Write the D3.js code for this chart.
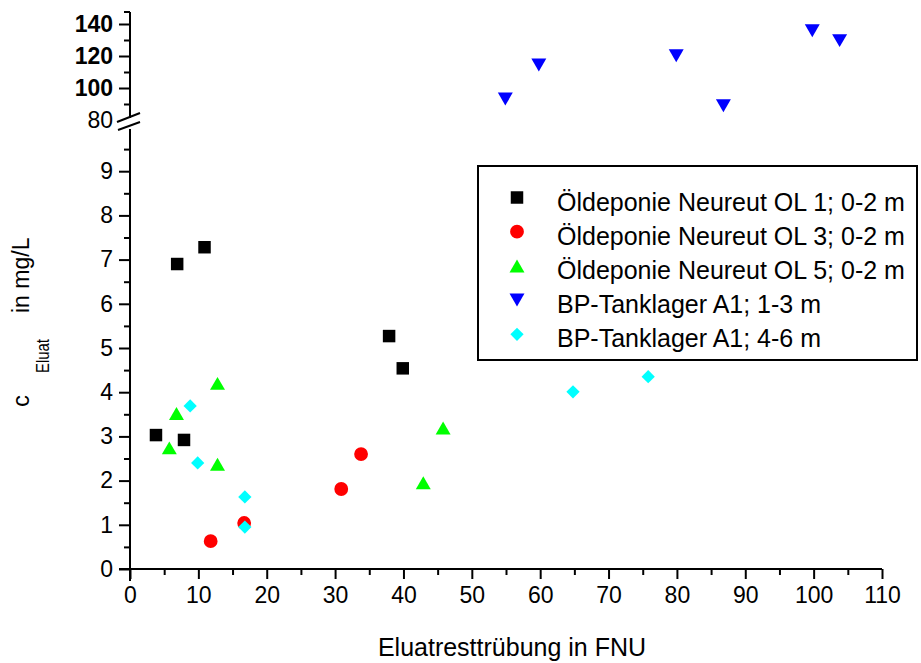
<!DOCTYPE html>
<html>
<head>
<meta charset="utf-8">
<script src="https://cdn.jsdelivr.net/npm/d3@7"></script>
<style>
  html, body { margin: 0; padding: 0; background: #fff; }
  svg { display: block; font-family: "Liberation Sans", Arial, sans-serif; }
</style>
</head>
<body>
<svg id="chart" width="921" height="663"></svg>
<script>
// ---- data ----
const seriesNames = [
  "Öldeponie Neureut OL 1; 0-2 m",
  "Öldeponie Neureut OL 3; 0-2 m",
  "Öldeponie Neureut OL 5; 0-2 m",
  "BP-Tanklager A1; 1-3 m",
  "BP-Tanklager A1; 4-6 m"
];
const ol1 = [[3.8, 3.03], [7.9, 2.92], [6.9, 6.9], [10.9, 7.28], [37.9, 5.27], [39.9, 4.54]];
const ol3 = [[11.8, 0.63], [16.7, 1.04], [30.9, 1.81], [33.8, 2.6]];
const ol5 = [[6.8, 3.52], [5.75, 2.74], [12.8, 4.2], [12.8, 2.37], [42.9, 1.95], [45.8, 3.19]];
const bp13 = [[54.9, 93.1], [59.8, 114.4], [79.9, 120.2], [86.8, 88.9], [99.8, 135.8], [103.8, 129.6]];
const bp46 = [[8.8, 3.69], [9.9, 2.4], [16.8, 1.63], [16.8, 0.95], [64.8, 4.01], [75.8, 4.35]];
const xTicks = [0, 10, 20, 30, 40, 50, 60, 70, 80, 90, 100, 110];
const yLowTicks = [0, 1, 2, 3, 4, 5, 6, 7, 8, 9];
const yHighTicks = [80, 100, 120, 140];
const xTitle = "Eluatresttrübung in FNU";

// ---- layout ----
const svg = d3.select("#chart");
const x = d3.scaleLinear().domain([0, 110]).range([130, 882]);
const yLow = d3.scaleLinear().domain([0, 10]).range([569, 127]);
const yHigh = d3.scaleLinear().domain([80, 147.5]).range([120, 12]);
const axisX = 130;
const fontTick = 23;

// x axis
const gx = svg.append("g").attr("transform", `translate(0,${yLow(0)})`);
gx.call(d3.axisBottom(x).tickValues(xTicks).tickSize(10).tickPadding(8).tickFormat(d3.format("d")));
gx.append("g").call(d3.axisBottom(x).tickValues(d3.range(5, 110, 10)).tickSize(6).tickFormat(""));
gx.selectAll(".domain").remove();
gx.append("line").attr("x1", x(0) - 11).attr("x2", x(110)).attr("stroke", "#000").attr("stroke-width", 2);
gx.selectAll(".tick line").attr("stroke", "#000").attr("stroke-width", 2);
gx.selectAll(".tick text").attr("font-size", fontTick).attr("fill", "#000").attr("font-family", "Liberation Sans, Arial, sans-serif");

// lower y axis
const gyl = svg.append("g").attr("transform", `translate(${axisX},0)`);
gyl.call(d3.axisLeft(yLow).tickValues(yLowTicks).tickSize(11).tickPadding(6).tickFormat(d3.format("d")));
gyl.append("g").call(d3.axisLeft(yLow).tickValues(d3.range(0.5, 10, 1)).tickSize(6).tickFormat(""));
gyl.selectAll(".domain").remove();
gyl.append("line").attr("y1", yLow(0) + 12).attr("y2", 129).attr("stroke", "#000").attr("stroke-width", 2);
gyl.selectAll(".tick line").attr("stroke", "#000").attr("stroke-width", 2);
gyl.selectAll(".tick text").attr("font-size", fontTick).attr("fill", "#000").attr("font-family", "Liberation Sans, Arial, sans-serif");

// upper y axis
const gyh = svg.append("g").attr("transform", `translate(${axisX},0)`);
gyh.call(d3.axisLeft(yHigh).tickValues(yHighTicks).tickSize(11).tickPadding(6).tickFormat(d3.format("d")));
gyh.append("g").call(d3.axisLeft(yHigh).tickValues([90, 110, 130]).tickSize(6).tickFormat(""));
gyh.selectAll(".domain").remove();
gyh.selectAll(".tick").filter(d => d === 80).select("line").remove();
gyh.append("line").attr("y1", yHigh(80) - 2).attr("y2", yHigh(147.5)).attr("stroke", "#000").attr("stroke-width", 2);
gyh.append("line").attr("x1", -6).attr("x2", 0).attr("y1", yHigh(147.5)).attr("y2", yHigh(147.5)).attr("stroke", "#000").attr("stroke-width", 2);
gyh.selectAll(".tick line").attr("stroke", "#000").attr("stroke-width", 2);
gyh.selectAll(".tick text").attr("font-size", fontTick).attr("fill", "#000").attr("font-family", "Liberation Sans, Arial, sans-serif")
  .attr("font-weight", d => d === 80 ? "normal" : "bold");

// axis break marks
const brk = svg.append("g").attr("stroke", "#000").attr("stroke-width", 2);
brk.append("line").attr("x1", axisX - 13).attr("y1", 122).attr("x2", axisX + 10).attr("y2", 113);
brk.append("line").attr("x1", axisX - 12).attr("y1", 130).attr("x2", axisX + 10).attr("y2", 122);

// ---- markers ----
const sq = d3.symbol().type(d3.symbolSquare).size(156)();
const circ = d3.symbol().type(d3.symbolCircle).size(150)();
const tri = d3.symbol().type(d3.symbolTriangle).size(97)();
const diam = d3.symbol().type(d3.symbolSquare).size(88)();
const triH = Math.sqrt(97 * 4 / Math.sqrt(3)) * Math.sqrt(3) / 2; // height
const triOff = triH / 6;

const specs = [
  { data: ol1, color: "#000000", path: sq, rot: 0, dy: 0, y: yLow },
  { data: ol3, color: "#ff0000", path: circ, rot: 0, dy: 0, y: yLow },
  { data: ol5, color: "#00ff00", path: tri, rot: 0, dy: triOff, y: yLow },
  { data: bp13, color: "#0000ff", path: tri, rot: 180, dy: -triOff, y: yHigh },
  { data: bp46, color: "#00ffff", path: diam, rot: 45, dy: 0, y: yLow }
];

specs.forEach(s => {
  svg.append("g").selectAll("path").data(s.data).join("path")
    .attr("d", s.path)
    .attr("fill", s.color)
    .attr("transform", d => `translate(${x(d[0])},${s.y(d[1]) + s.dy}) rotate(${s.rot})`);
});

// ---- legend ----
const lg = svg.append("g");
lg.append("rect").attr("x", 478).attr("y", 166).attr("width", 439).attr("height", 194)
  .attr("fill", "#fff").attr("stroke", "#000").attr("stroke-width", 2);
seriesNames.forEach((name, i) => {
  const cy = 201.5 + i * 34.2;
  const s = specs[i];
  lg.append("path").attr("d", s.path).attr("fill", s.color)
    .attr("transform", `translate(517,${cy - 4 + s.dy}) rotate(${s.rot})`);
  lg.append("text").attr("x", 557).attr("y", cy).attr("dy", "0.36em")
    .attr("font-size", 25).attr("fill", "#000").text(name);
});

// ---- titles ----
svg.append("text").attr("x", 512).attr("y", 656).attr("text-anchor", "middle")
  .attr("font-size", 25).attr("fill", "#000").text(xTitle);

const yt = svg.append("g").attr("fill", "#000");
yt.append("text").attr("transform", "translate(29,407) rotate(-90)").attr("font-size", 24).text("c");
yt.append("text").attr("transform", "translate(49,373) rotate(-90)").attr("font-size", 18)
  .attr("textLength", 34).attr("lengthAdjust", "spacingAndGlyphs").text("Eluat");
yt.append("text").attr("transform", "translate(29,313) rotate(-90)").attr("font-size", 23).text("in mg/L");
</script>
</body>
</html>
